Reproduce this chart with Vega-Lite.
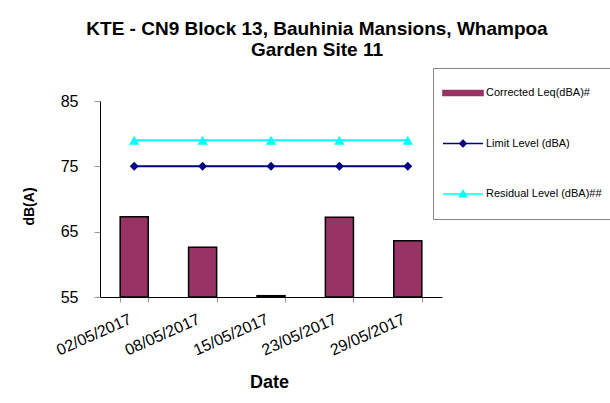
{
  "$schema": "https://vega.github.io/schema/vega-lite/v6.json",
  "autosize": {"type": "none"},
  "width": 342,
  "height": 196,
  "padding": {"left": 100, "top": 101, "right": 168, "bottom": 106},
  "background": "white",
  "config": {
    "font": "Liberation Sans",
    "view": {"stroke": null},
    "axis": {"grid": false, "domainColor": "black", "domainWidth": 1, "tickColor": "#999999", "labelColor": "black", "titleColor": "black", "labelFont": "Liberation Sans", "titleFont": "Liberation Sans"},
    "legend": {"labelFont": "Liberation Sans"}
  },
  "title": {
    "text": ["KTE - CN9 Block 13, Bauhinia Mansions, Whampoa", "Garden Site 11"],
    "font": "Liberation Sans",
    "fontSize": 19,
    "fontWeight": "bold",
    "color": "black",
    "anchor": "middle",
    "frame": "group",
    "lineHeight": 21,
    "dx": 46,
    "offset": 8
  },
  "data": {
    "values": [
      {"date": "02/05/2017", "series": "Corrected Leq(dBA)#", "value": 67.3},
      {"date": "08/05/2017", "series": "Corrected Leq(dBA)#", "value": 62.6},
      {"date": "15/05/2017", "series": "Corrected Leq(dBA)#", "value": 55.2},
      {"date": "23/05/2017", "series": "Corrected Leq(dBA)#", "value": 67.2},
      {"date": "29/05/2017", "series": "Corrected Leq(dBA)#", "value": 63.6},
      {"date": "02/05/2017", "series": "Limit Level (dBA)", "value": 75},
      {"date": "08/05/2017", "series": "Limit Level (dBA)", "value": 75},
      {"date": "15/05/2017", "series": "Limit Level (dBA)", "value": 75},
      {"date": "23/05/2017", "series": "Limit Level (dBA)", "value": 75},
      {"date": "29/05/2017", "series": "Limit Level (dBA)", "value": 75},
      {"date": "02/05/2017", "series": "Residual Level (dBA)##", "value": 79},
      {"date": "08/05/2017", "series": "Residual Level (dBA)##", "value": 79},
      {"date": "15/05/2017", "series": "Residual Level (dBA)##", "value": 79},
      {"date": "23/05/2017", "series": "Residual Level (dBA)##", "value": 79},
      {"date": "29/05/2017", "series": "Residual Level (dBA)##", "value": 79}
    ]
  },
  "encoding": {
    "x": {
      "field": "date",
      "type": "nominal",
      "sort": null,
      "scale": {"paddingInner": 0.59, "paddingOuter": 0.295},
      "axis": {
        "title": "Date",
        "titleFontSize": 18,
        "titleFontWeight": "bold",
        "titleBaseline": "alphabetic",
        "titleX": 169,
        "titleY": 90,
        "labelAngle": -24,
        "labelAlign": "right",
        "labelBaseline": "middle",
        "labelFontSize": 16,
        "labelPadding": 16,
        "labelOffset": -4,
        "tickBand": "extent",
        "tickSize": 5,
        "domainColor": "black"
      }
    },
    "y": {
      "field": "value",
      "type": "quantitative",
      "scale": {"domain": [55, 85], "zero": false, "nice": false},
      "axis": {
        "title": "dB(A)",
        "titleFontSize": 14,
        "titleFontWeight": "bold",
        "titleBaseline": "alphabetic",
        "titleAngle": -90,
        "titleX": -67,
        "titleY": 105,
        "values": [55, 65, 75, 85],
        "labelFontSize": 16,
        "labelPadding": 16,
        "tickSize": 6
      }
    },
    "color": {
      "field": "series",
      "type": "nominal",
      "scale": {
        "domain": ["Corrected Leq(dBA)#", "Limit Level (dBA)", "Residual Level (dBA)##"],
        "range": ["#993366", "#000080", "#00FFFF"]
      },
      "legend": {
        "title": null,
        "orient": "none",
        "legendX": 333,
        "legendY": -33,
        "symbolSize": 1600,
        "labelFontSize": 11,
        "labelColor": "black",
        "labelOffset": 2,
        "clipHeight": 32,
        "rowPadding": 18.5,
        "padding": 9,
        "strokeColor": "#888888",
        "fillColor": "white",
        "labelLimit": 200,
        "encode": {
          "symbols": {
            "update": {
              "shape": {"signal": "datum.value === 'Corrected Leq(dBA)#' ? 'M-1,-0.12H1V0.12H-1Z' : datum.value === 'Limit Level (dBA)' ? 'M-1,0H1M0,-0.16L0.16,0L0,0.16L-0.16,0Z' : 'M-1,0H1M0,-0.17L0.18,0.14L-0.18,0.14Z'"},
              "fill": {"signal": "datum.value === 'Corrected Leq(dBA)#' ? '#993366' : datum.value === 'Limit Level (dBA)' ? '#000080' : '#00FFFF'"},
              "stroke": {"signal": "datum.value === 'Corrected Leq(dBA)#' ? 'black' : datum.value === 'Limit Level (dBA)' ? '#000080' : '#00FFFF'"},
              "strokeWidth": {"value": 1.6},
              "opacity": {"value": 1},
              "fillOpacity": {"value": 1}
            }
          }
        }
      }
    }
  },
  "layer": [
    {
      "transform": [{"filter": "datum.series === 'Corrected Leq(dBA)#'"}],
      "mark": {"type": "bar", "stroke": "black", "strokeWidth": 1.5},
      "encoding": {"y2": {"datum": 55}}
    },
    {
      "transform": [{"filter": "datum.series !== 'Corrected Leq(dBA)#'"}],
      "mark": {"type": "line", "strokeWidth": 2}
    },
    {
      "transform": [{"filter": "datum.series !== 'Corrected Leq(dBA)#'"}],
      "mark": {"type": "point", "filled": true, "opacity": 1},
      "encoding": {
        "shape": {
          "field": "series",
          "type": "nominal",
          "scale": {"domain": ["Limit Level (dBA)", "Residual Level (dBA)##"], "range": ["diamond", "triangle-up"]},
          "legend": null
        },
        "size": {
          "field": "series",
          "type": "nominal",
          "scale": {"domain": ["Limit Level (dBA)", "Residual Level (dBA)##"], "range": [80, 110]},
          "legend": null
        }
      }
    }
  ]
}
